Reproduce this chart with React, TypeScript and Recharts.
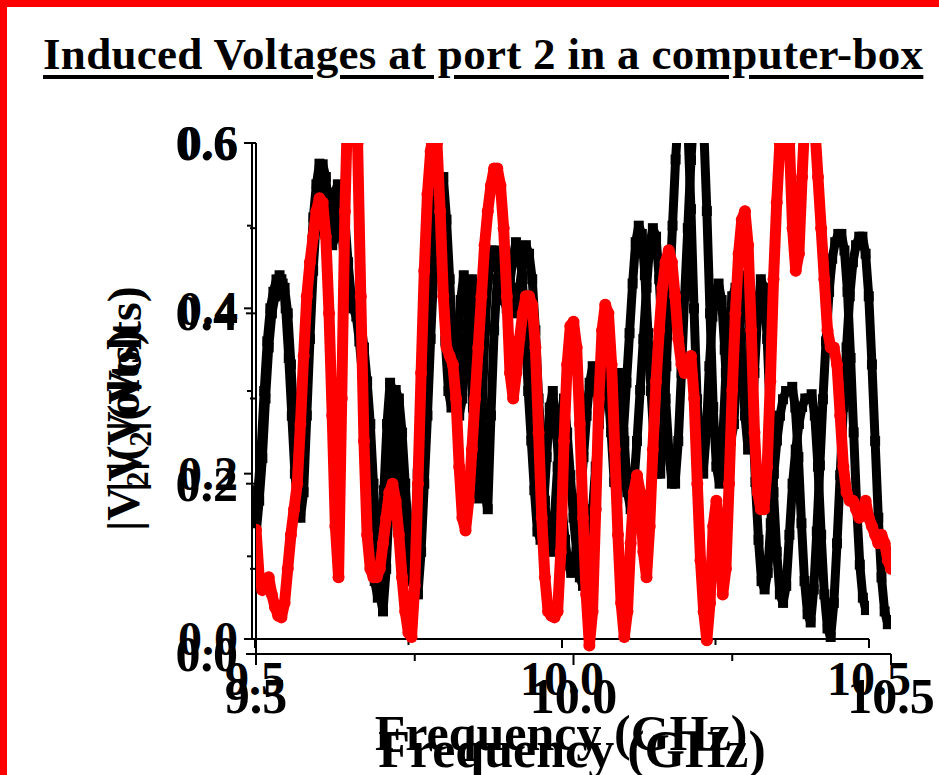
import React from 'react';
import { ScatterChart, Scatter, XAxis, YAxis, Label } from 'recharts';

// ---------- data ----------
const FREQ_START = 9.5;
const FREQ_STEP = 0.005;

// |V2| trace drawn with black squares (one value every 5 MHz from 9.5 to 10.5 GHz)
const BLACK_V = [
  0.14, 0.18, 0.23, 0.30, 0.36, 0.40, 0.42, 0.435, 0.44, 0.43,
  0.40, 0.34, 0.27, 0.20, 0.16, 0.19, 0.28, 0.37, 0.45, 0.51,
  0.55, 0.575, 0.56, 0.51, 0.48, 0.49, 0.54, 0.55, 0.51, 0.46,
  0.42, 0.41, 0.40, 0.39, 0.36, 0.32, 0.27, 0.20, 0.13, 0.07,
  0.05, 0.10, 0.18, 0.26, 0.31, 0.30, 0.26, 0.20, 0.14, 0.11,
  0.08, 0.07, 0.12, 0.20, 0.28, 0.37, 0.45, 0.52, 0.56, 0.56,
  0.51, 0.44, 0.36, 0.30, 0.28, 0.30, 0.36, 0.41, 0.44, 0.43,
  0.36, 0.28, 0.19, 0.17, 0.28, 0.38, 0.44, 0.47, 0.47, 0.45,
  0.43, 0.41, 0.40, 0.43, 0.46, 0.48, 0.47, 0.44, 0.38, 0.30,
  0.24, 0.18, 0.13, 0.12, 0.16, 0.22, 0.28, 0.30, 0.26, 0.21,
  0.16, 0.12, 0.09, 0.08, 0.09, 0.12, 0.17, 0.22, 0.27, 0.31,
  0.33, 0.31, 0.28, 0.30, 0.33, 0.30, 0.25, 0.19, 0.17, 0.20,
  0.25, 0.31, 0.37, 0.43, 0.48, 0.50, 0.49, 0.44, 0.37, 0.30,
  0.24, 0.20, 0.20, 0.25, 0.33, 0.42, 0.50, 0.58, 0.64, 0.68,
  0.68, 0.62, 0.52, 0.40, 0.29, 0.22, 0.20, 0.25, 0.33, 0.39,
  0.42, 0.43, 0.41, 0.35, 0.28, 0.24, 0.26, 0.33, 0.40, 0.44,
  0.43, 0.37, 0.28, 0.19, 0.12, 0.07, 0.06, 0.08, 0.14, 0.20,
  0.24, 0.27, 0.29, 0.30, 0.30, 0.305, 0.28, 0.22, 0.14, 0.07,
  0.03, 0.02, 0.06, 0.13, 0.21, 0.29, 0.36, 0.42, 0.46, 0.48,
  0.49, 0.49, 0.47, 0.42, 0.34, 0.25, 0.16, 0.09, 0.05, 0.035,
  0.04,
];

// |V2| trace drawn with red circles (one value every 5 MHz from 9.5 to 10.5 GHz)
const RED_V = [
  0.146, 0.09, 0.075, 0.085, 0.09, 0.07, 0.055, 0.045, 0.043, 0.06,
  0.10, 0.14, 0.17, 0.20, 0.27, 0.35, 0.42, 0.46, 0.49, 0.52,
  0.535, 0.53, 0.49, 0.40, 0.28, 0.15, 0.09, 0.30, 0.52, 0.66,
  0.75, 0.72, 0.60, 0.42, 0.25, 0.14, 0.10, 0.09, 0.09, 0.10,
  0.13, 0.16, 0.19, 0.20, 0.18, 0.14, 0.09, 0.05, 0.025, 0.02,
  0.08, 0.20, 0.33, 0.45, 0.54, 0.59, 0.62, 0.60, 0.52, 0.42,
  0.36, 0.35, 0.34, 0.30, 0.22, 0.16, 0.145, 0.18, 0.24, 0.30,
  0.36, 0.42, 0.48, 0.52, 0.55, 0.57, 0.57, 0.55, 0.50, 0.42,
  0.33, 0.30, 0.33, 0.37, 0.40, 0.42, 0.42, 0.41, 0.36, 0.26,
  0.16, 0.09, 0.05, 0.045, 0.043, 0.05, 0.12, 0.25, 0.34, 0.385,
  0.39, 0.36, 0.27, 0.16, 0.07, 0.01, 0.05, 0.17, 0.30, 0.38,
  0.41, 0.40, 0.34, 0.24, 0.14, 0.06, 0.02, 0.05, 0.13, 0.19,
  0.21, 0.19, 0.12, 0.09, 0.15, 0.24, 0.32, 0.38, 0.43, 0.46,
  0.474, 0.46, 0.42, 0.37, 0.34, 0.33, 0.34, 0.35, 0.30, 0.20,
  0.11, 0.05, 0.016, 0.06, 0.15, 0.18, 0.14, 0.07, 0.10, 0.20,
  0.31, 0.40, 0.47, 0.51, 0.52, 0.48, 0.38, 0.26, 0.19, 0.17,
  0.17, 0.22, 0.32, 0.44, 0.53, 0.60, 0.65, 0.67, 0.60, 0.50,
  0.45, 0.47, 0.56, 0.64, 0.68, 0.68, 0.62, 0.56, 0.50, 0.44,
  0.38, 0.36, 0.36, 0.34, 0.28, 0.22, 0.19, 0.18, 0.18, 0.17,
  0.16, 0.17, 0.18, 0.16, 0.15, 0.14, 0.13, 0.14, 0.13, 0.11,
  0.10,
];

const X_TICKS = [9.5, 9.75, 10.0, 10.25, 10.5];
const X_TICK_LABELS = ['9.5', '', '10.0', '', '10.5'];
const Y_TICKS = [0, 0.1, 0.2, 0.3, 0.4, 0.5, 0.6];
const Y_TICK_LABELS = ['0.0', '', '0.2', '', '0.4', '', '0.6'];

const TITLE = 'Induced Voltages at port 2 in a computer-box';
const X_TITLE = 'Frequency (GHz)';
const Y_TITLE_MAIN = '|V';
const Y_TITLE_SUB = '2';
const Y_TITLE_REST = '|(Volts)';

const toPoints = (vals: number[]) =>
  vals.map((v, i) => ({ f: Math.round((FREQ_START + i * FREQ_STEP) * 1000) / 1000, v }));

const BLACK_POINTS = toPoints(BLACK_V);
const RED_POINTS = toPoints(RED_V);

// ---------- layout / style ----------
const W = 939;
const H = 775;
const FONT = '"Liberation Serif", "Times New Roman", Times, serif';

type Frame = {
  left: number; right: number; top: number; bottom: number;
  xDomain: [number, number];
  tickFont: number; titleFont: number; yTitleFont: number;
  xMajor: number; xMinor: number; yMajor: number; yMinor: number;
  xLabelDy: number; yLabelGap: number;
  xTitleX: number; xTitleY: number;
  yTitleX: number; yTitleY: number;
  red: boolean;
};

const FRAME_A: Frame = {
  left: 252, right: 869, top: 143, bottom: 639,
  xDomain: [9.5 - 3 / 614, 10.5],
  tickFont: 48, titleFont: 50, yTitleFont: 47,
  xMajor: 9, xMinor: 6, yMajor: 8, yMinor: 5,
  xLabelDy: 56, yLabelGap: 6,
  xTitleX: 561, xTitleY: 750,
  yTitleX: 139, yTitleY: 531,
  red: false,
};

const FRAME_B: Frame = {
  left: 256, right: 891, top: 143, bottom: 654,
  xDomain: [9.5, 10.5],
  tickFont: 50, titleFont: 52, yTitleFont: 48,
  xMajor: 11, xMinor: 7, yMajor: 10, yMinor: 6,
  xLabelDy: 59, yLabelGap: 8,
  xTitleX: 572, xTitleY: 767,
  yTitleX: 141, yTitleY: 492,
  red: true,
};

const AXIS_H = 60;
const AXIS_W = 60;

const labelFor = (ticks: number[], labels: string[], v: number) => {
  const i = ticks.findIndex((t) => Math.abs(t - v) < 1e-6);
  return i >= 0 ? labels[i] : '';
};

const squareShape = (p: any) => (
  <rect x={p.cx - 5} y={p.cy - 5} width={10} height={10} fill="#000" />
);
const circleShape = (p: any) => <circle cx={p.cx} cy={p.cy} r={6} fill="#ff0000" />;

function Chart({ cfg }: { cfg: Frame }) {
  const xTick = (props: any) => {
    const { x, y, payload } = props;
    const lab = labelFor(X_TICKS, X_TICK_LABELS, payload.value);
    const len = lab ? cfg.xMajor : cfg.xMinor;
    return (
      <g>
        <line x1={x} x2={x} y1={y} y2={y + len} stroke="#000" strokeWidth={2} />
        {lab ? (
          <text x={x} y={y + cfg.xLabelDy} textAnchor="middle" fontFamily={FONT} fontWeight="bold" fontSize={cfg.tickFont} fill="#000">
            {lab}
          </text>
        ) : null}
      </g>
    );
  };
  const yTick = (props: any) => {
    const { x, y, payload } = props;
    const lab = labelFor(Y_TICKS, Y_TICK_LABELS, payload.value);
    const len = lab ? cfg.yMajor : cfg.yMinor;
    return (
      <g>
        <line x1={x - len} x2={x} y1={y} y2={y} stroke="#000" strokeWidth={2} />
        {lab ? (
          <text x={x - len - cfg.yLabelGap} y={y + cfg.tickFont * 0.34} textAnchor="end" fontFamily={FONT} fontWeight="bold" fontSize={cfg.tickFont} fill="#000">
            {lab}
          </text>
        ) : null}
      </g>
    );
  };
  return (
    <ScatterChart
      width={W}
      height={H}
      margin={{ top: cfg.top, right: W - cfg.right, bottom: H - cfg.bottom - AXIS_H, left: cfg.left - AXIS_W }}
    >
      <XAxis
        type="number"
        dataKey="f"
        domain={cfg.xDomain}
        ticks={X_TICKS}
        interval={0}
        allowDataOverflow
        height={AXIS_H}
        tickSize={0}
        tickMargin={0}
        tickLine={false}
        axisLine={{ stroke: '#000', strokeWidth: 2 }}
        tick={xTick}
      >
        <Label
          content={() => (
            <text x={cfg.xTitleX} y={cfg.xTitleY} textAnchor="middle" fontFamily={FONT} fontWeight="bold" fontSize={cfg.titleFont} fill="#000">
              {X_TITLE}
            </text>
          )}
        />
      </XAxis>
      <YAxis
        type="number"
        dataKey="v"
        domain={[0, 0.6]}
        ticks={Y_TICKS}
        interval={0}
        allowDataOverflow
        width={AXIS_W}
        tickSize={0}
        tickMargin={0}
        tickLine={false}
        axisLine={{ stroke: '#000', strokeWidth: 2 }}
        tick={yTick}
      >
        <Label
          content={() => (
            <text
              x={cfg.yTitleX}
              y={cfg.yTitleY}
              transform={`rotate(-90 ${cfg.yTitleX} ${cfg.yTitleY})`}
              textAnchor="start"
              fontFamily={FONT}
              fontWeight="bold"
              fontSize={cfg.yTitleFont}
              fill="#000"
            >
              {Y_TITLE_MAIN}
              <tspan fontSize={cfg.yTitleFont * 0.65} dy={cfg.yTitleFont * 0.2}>{Y_TITLE_SUB}</tspan>
              <tspan dy={-cfg.yTitleFont * 0.2}>{Y_TITLE_REST}</tspan>
            </text>
          )}
        />
      </YAxis>
      <Scatter
        data={BLACK_POINTS}
        isAnimationActive={false}
        shape={squareShape}
        line={{ stroke: '#000', strokeWidth: 9, strokeLinejoin: 'round' }}
      />
      {cfg.red ? (
        <Scatter
          data={RED_POINTS}
          isAnimationActive={false}
          shape={circleShape}
          line={{ stroke: '#ff0000', strokeWidth: 11, strokeLinejoin: 'round', strokeLinecap: 'round' }}
        />
      ) : null}
    </ScatterChart>
  );
}

export default function App() {
  return (
    <div style={{ position: 'absolute', left: 0, top: 0, width: W, height: H, overflow: 'hidden', background: '#fff' }}>
      <div
        style={{
          position: 'absolute', left: 0, top: 0, width: W + 20, height: H + 20,
          borderLeft: '7px solid #ff0000', borderTop: '7px solid #ff0000', boxSizing: 'border-box',
        }}
      />
      <div
        style={{
          position: 'absolute', left: 43, top: 32, fontFamily: FONT, fontWeight: 'bold', fontSize: 45,
          lineHeight: '45px', whiteSpace: 'nowrap', color: '#000', textDecoration: 'underline',
          textDecorationThickness: '4px', textUnderlineOffset: '6px', letterSpacing: '0.3px',
        }}
      >
        {TITLE}
      </div>
      <div style={{ position: 'absolute', left: 0, top: 0 }}>
        <Chart cfg={FRAME_A} />
      </div>
      <div style={{ position: 'absolute', left: 0, top: 0 }}>
        <Chart cfg={FRAME_B} />
      </div>
    </div>
  );
}
